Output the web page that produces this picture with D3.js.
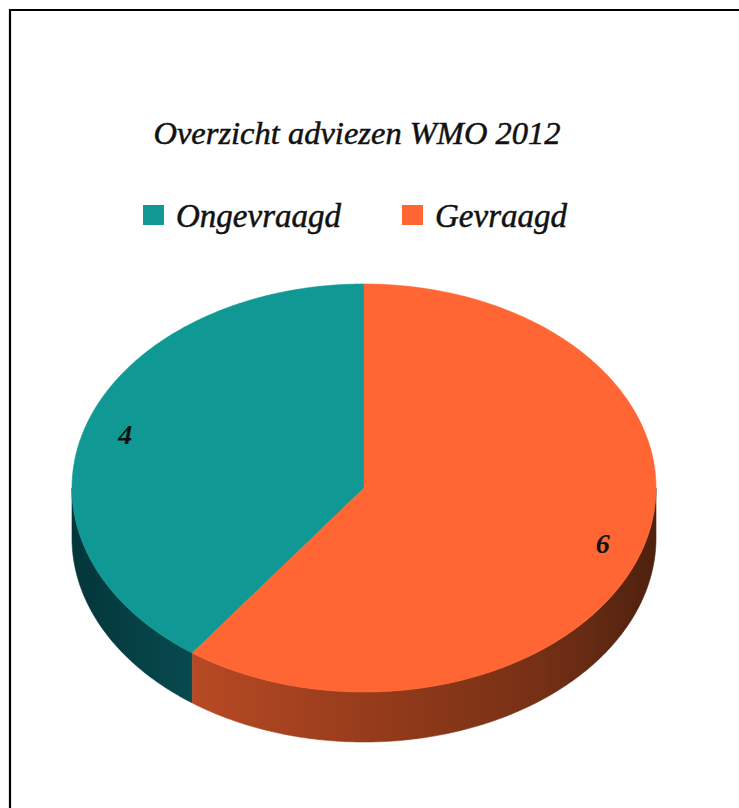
<!DOCTYPE html>
<html><head><meta charset="utf-8">
<script src="https://cdn.jsdelivr.net/npm/d3@7"></script>
<style>html,body{margin:0;padding:0;background:#fff;}svg{display:block;}</style>
</head><body>
<script>
const categories = ["Ongevraagd", "Gevraagd"];
const values = [4, 6];
const title = "Overzicht adviezen WMO 2012";

const W = 739, H = 808;
const svg = d3.select("body").append("svg").attr("width", W).attr("height", H);
const defs = svg.append("defs");

// border (top and left only visible)
svg.append("line").attr("x1", 9).attr("y1", 10).attr("x2", W).attr("y2", 10).attr("stroke", "#000").attr("stroke-width", 2.2);
svg.append("line").attr("x1", 10).attr("y1", 9).attr("x2", 10).attr("y2", H).attr("stroke", "#000").attr("stroke-width", 2.2);

const topColor = d3.scaleOrdinal().domain(categories).range(["#0f9894", "#ff6633"]);
const sideStops = {
  "Ongevraagd": [["0%", "#03363a"], ["21%", "#074a4f"]],
  "Gevraagd": [["20%", "#b84a24"], ["50%", "#973c1b"], ["80%", "#763015"], ["100%", "#4e210e"]]
};

const cx = 364, cy = 488, rx = 292, ry = 204, depth = 50;
const pt = (a, dy = 0) => [cx + rx * Math.sin(a), cy - ry * Math.cos(a) + dy];

const pie = d3.pie().sort(null).value(d => d.v).startAngle(0).endAngle(-2 * Math.PI);
const arcs = pie(categories.map((c, i) => ({ c, v: values[i] })));

function arcPoints(a0, a1, dy) {
  const n = Math.max(8, Math.ceil(Math.abs(a1 - a0) / 0.01));
  const out = [];
  for (let i = 0; i <= n; i++) out.push(pt(a0 + (a1 - a0) * i / n, dy));
  return out;
}

const line = d3.line();

// gradients
categories.forEach((c, i) => {
  const g = defs.append("linearGradient").attr("id", "side" + i)
    .attr("gradientUnits", "userSpaceOnUse").attr("x1", cx - rx).attr("x2", cx + rx).attr("y1", 0).attr("y2", 0);
  sideStops[c].forEach(s => g.append("stop").attr("offset", s[0]).attr("stop-color", s[1]));
});

// sides
const gSides = svg.append("g");
arcs.forEach((d, i) => {
  let lo = Math.min(d.startAngle, d.endAngle), hi = Math.max(d.startAngle, d.endAngle);
  if (lo < 0) { lo += 2 * Math.PI; hi += 2 * Math.PI; }
  const s = Math.max(lo, Math.PI / 2), e = Math.min(hi, 3 * Math.PI / 2);
  if (e <= s) return;
  const topPts = arcPoints(s, e, 0);
  const botPts = arcPoints(e, s, depth);
  gSides.append("path").attr("d", line(topPts.concat(botPts)) + "Z")
    .attr("fill", "url(#side" + i + ")").attr("stroke", "url(#side" + i + ")").attr("stroke-width", 0.6);
});

// top faces
const gTop = svg.append("g");
arcs.forEach((d, i) => {
  const pts = [[cx, cy]].concat(arcPoints(d.startAngle, d.endAngle, 0));
  gTop.append("path").attr("d", line(pts) + "Z")
    .attr("fill", topColor(d.data.c)).attr("stroke", topColor(d.data.c)).attr("stroke-width", 0.6);
});

const serif = "Liberation Serif, Times New Roman, serif";

// value labels
arcs.forEach(d => {
  const m = (d.startAngle + d.endAngle) / 2;
  const k = 0.86;
  svg.append("text")
    .attr("x", cx + rx * k * Math.sin(m)).attr("y", cy - ry * k * Math.cos(m) + 4)
    .attr("text-anchor", "middle").attr("dominant-baseline", "middle")
    .attr("font-family", serif)
    .attr("font-style", "italic").attr("font-weight", "bold").attr("font-size", 28)
    .attr("fill", "#111").text(d.data.v);
});

// title
svg.append("text").attr("x", 357).attr("y", 144).attr("text-anchor", "middle")
  .attr("font-family", serif).attr("font-style", "italic")
  .attr("font-size", 32.5).attr("fill", "#111").attr("stroke", "#111").attr("stroke-width", 0.5)
  .text(title);

// legend
const legendX = [143, 402];
const lg = svg.append("g");
categories.forEach((c, i) => {
  lg.append("rect").attr("x", legendX[i]).attr("y", 205).attr("width", 21).attr("height", 20).attr("fill", topColor(c));
  lg.append("text").attr("x", legendX[i] + 33).attr("y", 227)
    .attr("font-family", serif).attr("font-style", "italic")
    .attr("font-size", 33).attr("fill", "#111").attr("stroke", "#111").attr("stroke-width", 0.5)
    .text(c);
});
</script>
</body></html>
